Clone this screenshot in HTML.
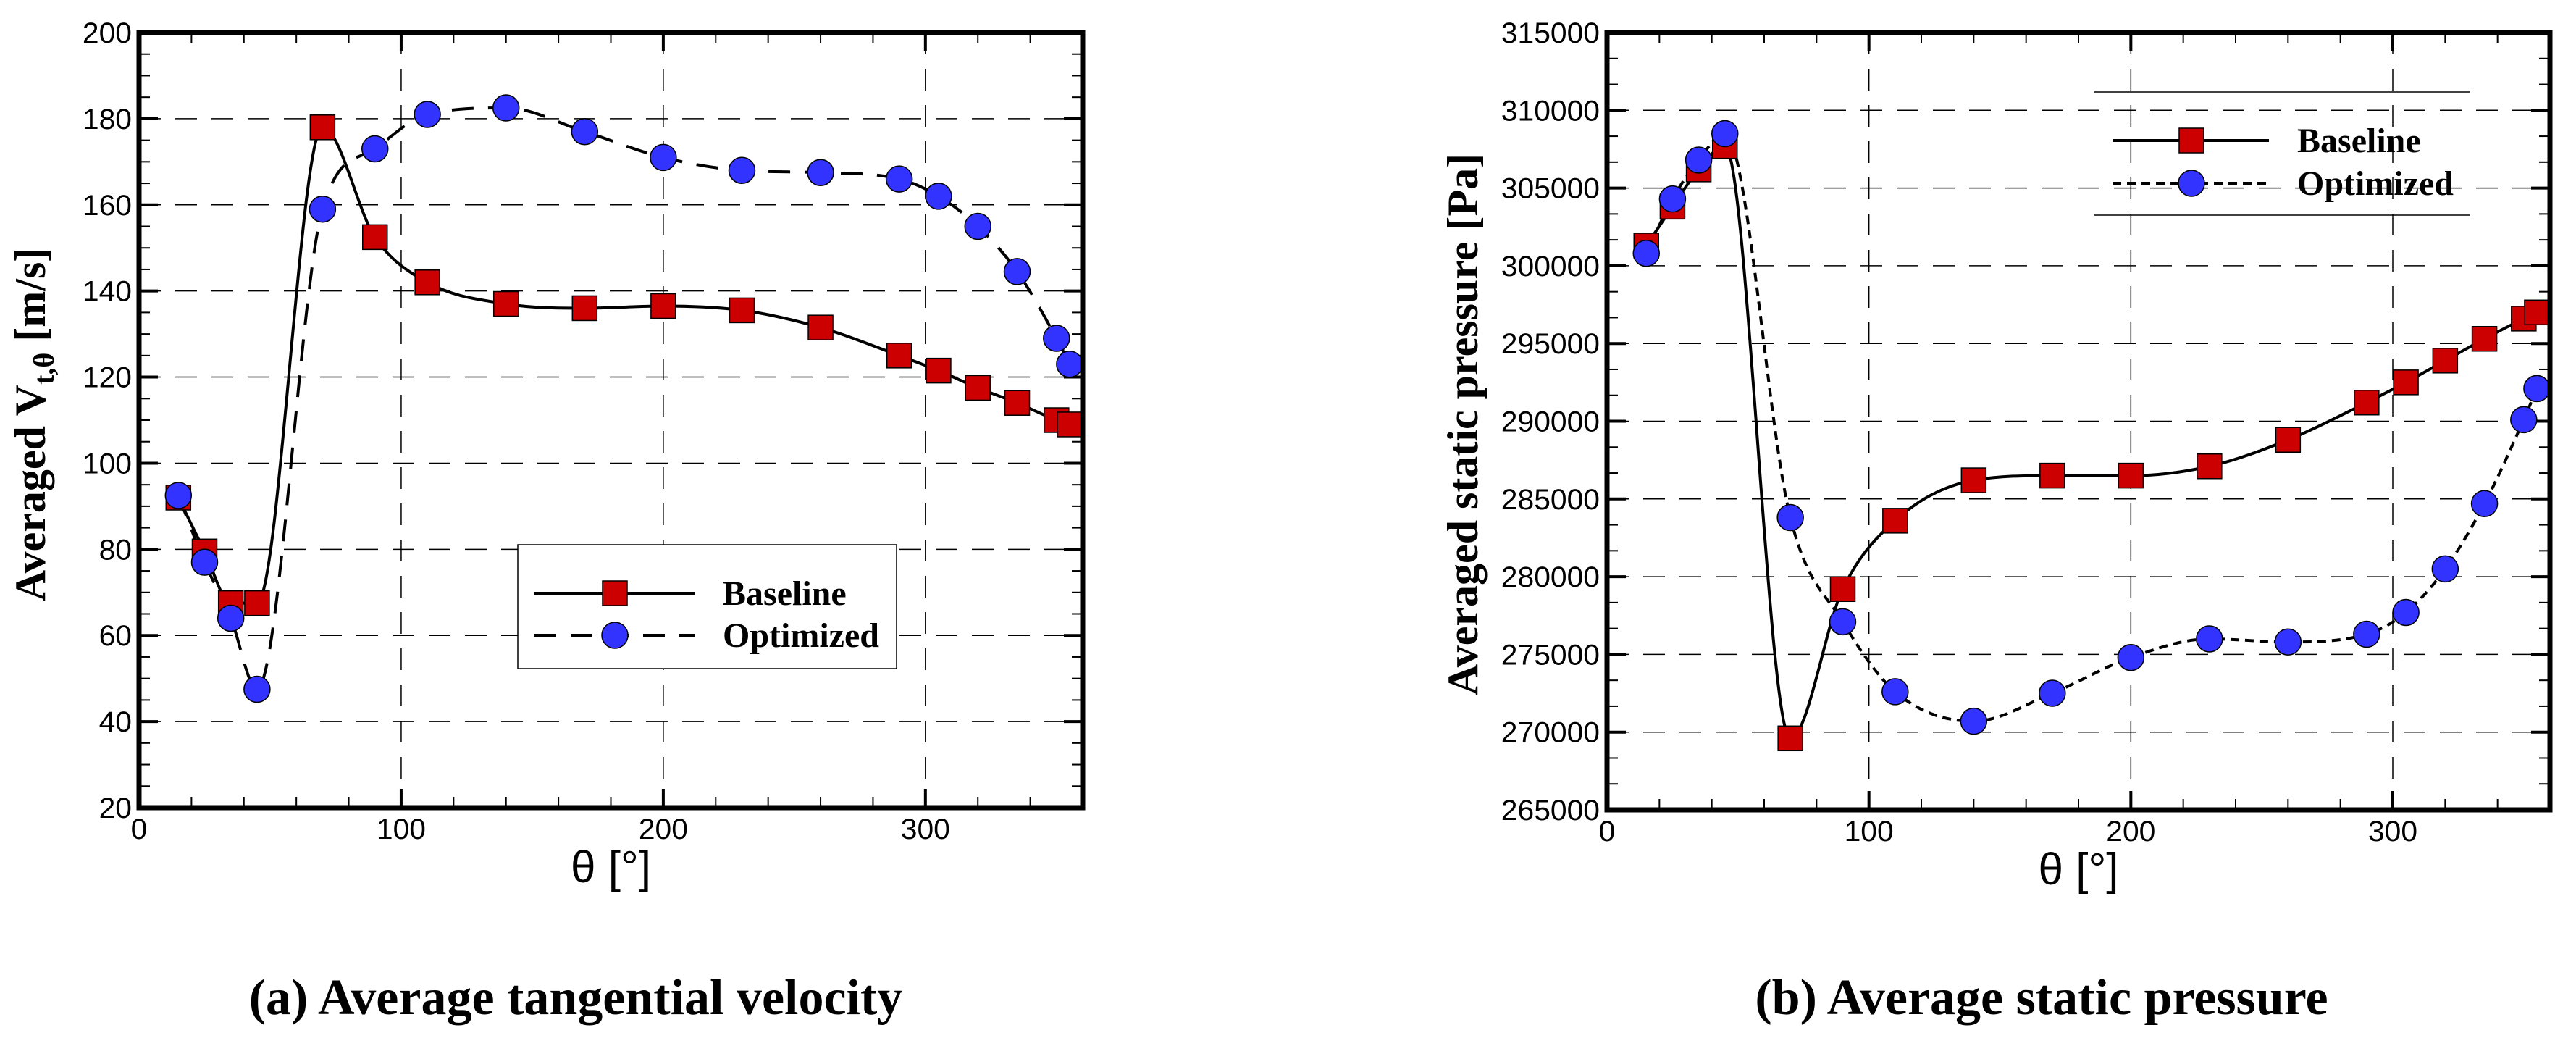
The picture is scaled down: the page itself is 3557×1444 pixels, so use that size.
<!DOCTYPE html>
<html><head><meta charset="utf-8"><style>
html,body{margin:0;padding:0;background:#fff}
svg{display:block}
.tick{font-family:"Liberation Sans Narrow","Liberation Sans",sans-serif;font-size:40px}
.serif{font-family:"Liberation Serif",serif;font-weight:bold}
</style></head><body>
<svg id="fig" width="3557" height="1444" viewBox="0 0 3557 1444" xmlns="http://www.w3.org/2000/svg">
<text class="serif" x="795" y="1400" font-size="70" text-anchor="middle">(a) Average tangential velocity</text>
<text class="serif" x="2819" y="1400" font-size="70" text-anchor="middle">(b) Average static pressure</text>
</svg>
<script>
const thetaA = [15,25,35,45,70,90,110,140,170,200,230,260,290,305,320,335,350,355];
const velBaseline = [92,79.5,67.5,67.5,178,152.5,142,137,136,136.5,135.5,131.5,125,121.5,117.5,114,110,109];
const velOptimized = [92.5,77,64,47.5,159,173,181,182.5,177,171,168,167.5,166,162,155,144.5,129,123];
const velTicks = [20,40,60,80,100,120,140,160,180,200];
const thetaTicks = [0,100,200,300];
const presBaseline = [301300,303800,306200,307700,269600,279200,283600,286200,286500,286500,287100,288800,291200,292500,293900,295300,296600,297000];
const presOptimized = [300800,304300,306800,308500,283800,277100,272600,270700,272500,274800,276000,275800,276300,277700,280500,284700,290100,292100];
const presTicks = [265000,270000,275000,280000,285000,290000,295000,300000,305000,310000,315000];

const NS="http://www.w3.org/2000/svg";
const svg=document.getElementById('fig');
function mk(tag,attrs,parent){const e=document.createElementNS(NS,tag);for(const k in attrs)e.setAttribute(k,attrs[k]);(parent||svg).appendChild(e);return e;}

function smooth(pts){
  const n=pts.length,dx=[],dy=[],m=[],s=[];
  for(let i=0;i<n-1;i++){dx[i]=pts[i+1][0]-pts[i][0];dy[i]=pts[i+1][1]-pts[i][1];s[i]=dy[i]/dx[i];}
  m[0]=s[0];m[n-1]=s[n-2];
  for(let i=1;i<n-1;i++){m[i]=(s[i-1]*s[i]<=0)?0:(s[i-1]+s[i])/2;}
  for(let i=0;i<n-1;i++){if(s[i]===0){m[i]=0;m[i+1]=0;continue;}
    const a=m[i]/s[i],b=m[i+1]/s[i],h=a*a+b*b;if(h>9){const t=3/Math.sqrt(h);m[i]=t*a*s[i];m[i+1]=t*b*s[i];}}
  let d="M"+pts[0][0]+","+pts[0][1];
  for(let i=0;i<n-1;i++){const h=dx[i]/3;
    d+=" C"+(pts[i][0]+h)+","+(pts[i][1]+m[i]*h)+" "+(pts[i+1][0]-h)+","+(pts[i+1][1]-m[i+1]*h)+" "+pts[i+1][0]+","+pts[i+1][1];}
  return d;
}

function plot(cfg){
  const g=mk('g',{});
  
  
  const L=cfg.L,R=cfg.R,T=cfg.T,B=cfg.B;
  const xs=v=>L+(v-0)/(360-0)*(R-L);
  const ys=v=>B-(v-cfg.ymin)/(cfg.ymax-cfg.ymin)*(B-T);
  thetaTicks.forEach(v=>{ if(v>0){const l=mk('line',{x1:xs(v),x2:xs(v),y1:T,y2:B,stroke:'#000','stroke-width':1.5,'stroke-dasharray':'30 20'},g);
    
    }});
  cfg.yticks.forEach(v=>{ if(v>cfg.ymin&&v<cfg.ymax){const l=mk('line',{x1:L,x2:R,y1:ys(v),y2:ys(v),stroke:'#000','stroke-width':1.5,'stroke-dasharray':'30 20'},g);
    
    }});
  for(let v=0;v<=360;v+=20){const maj=v%100===0;const len=maj?26:15;
    mk('line',{x1:xs(v),x2:xs(v),y1:B,y2:B-len,stroke:'#000','stroke-width':maj?4:2},g);
    mk('line',{x1:xs(v),x2:xs(v),y1:T,y2:T+len,stroke:'#000','stroke-width':maj?4:2},g);}
  const step=cfg.yticks[1]-cfg.yticks[0];const minor=step/cfg.nminor;
  for(let v=cfg.ymin;v<=cfg.ymax+1e-6;v+=minor){const maj=Math.abs(((v-cfg.ymin)/step)-Math.round((v-cfg.ymin)/step))<1e-6;const len=maj?26:15;
    mk('line',{x1:L,x2:L+len,y1:ys(v),y2:ys(v),stroke:'#000','stroke-width':maj?4:2},g);
    mk('line',{x1:R,x2:R-len,y1:ys(v),y2:ys(v),stroke:'#000','stroke-width':maj?4:2},g);}
  thetaTicks.forEach(v=>{const s=String(v);const t=mk('text',{x:xs(v),y:B+43,'text-anchor':'middle',class:'tick',textLength:s.length*22.7,lengthAdjust:'spacingAndGlyphs'},g);t.textContent=s;
    
    });
  cfg.yticks.forEach(v=>{const s=String(v);const t=mk('text',{x:L-10,y:ys(v)+14,'text-anchor':'end',class:'tick',textLength:s.length*22.7,lengthAdjust:'spacingAndGlyphs'},g);t.textContent=s;
    
    });
  const s1=cfg.s1.map((v,i)=>[xs(thetaA[i]),ys(v)]);
  const s2=cfg.s2.map((v,i)=>[xs(thetaA[i]),ys(v)]);
  const p1=mk('path',{d:smooth(s1),fill:'none',stroke:'#000','stroke-width':4},g);
  
  
  const p2=mk('path',{d:smooth(s2),fill:'none',stroke:'#000','stroke-width':4,'stroke-dasharray':cfg.dash},g);
  
  
  s1.forEach(p=>{const r=mk('rect',{x:p[0]-17,y:p[1]-17,width:34,height:34,fill:'#cc0000',stroke:'#000','stroke-width':1.5},g);
    
    });
  s2.forEach(p=>{const c=mk('circle',{cx:p[0],cy:p[1],r:18,fill:'#3333ff',stroke:'#000','stroke-width':1.5},g);
    
    });
  const f=mk('rect',{x:L,y:T,width:R-L,height:B-T,fill:'none',stroke:'#000','stroke-width':7},g);
  
  
  const xt=mk('text',{x:(L+R)/2,y:B+103,'text-anchor':'middle',class:'tick'},g);
  xt.setAttribute('style','font-size:62px');
  xt.textContent='θ [°]';
  
  
  const yt=mk('text',{x:cfg.ytx,y:586,'text-anchor':'middle',class:'serif','font-size':60,transform:'rotate(-90 '+cfg.ytx+' 586)'},g);
  
  
  if(cfg.vel){yt.innerHTML='Averaged V<tspan font-size="40" dy="12">t,θ</tspan><tspan dy="-12"> [m/s]</tspan>';}
  else yt.textContent='Averaged static pressure [Pa]';
  const lg=mk('g',{},g);
  
  
  const Lg=cfg.legend;
  if(Lg.box) mk('rect',{x:Lg.x0,y:Lg.y0,width:Lg.x1-Lg.x0,height:Lg.y1-Lg.y0,fill:'#fff',stroke:'#000','stroke-width':1.5},lg);
  else{mk('line',{x1:Lg.x0,x2:Lg.x1,y1:Lg.y0,y2:Lg.y0,stroke:'#000','stroke-width':1.5},lg);mk('line',{x1:Lg.x0,x2:Lg.x1,y1:Lg.y1,y2:Lg.y1,stroke:'#000','stroke-width':1.5},lg);}
  mk('line',{x1:Lg.lx0,x2:Lg.lx1,y1:Lg.r1,y2:Lg.r1,stroke:'#000','stroke-width':4},lg);
  mk('rect',{x:Lg.mx-17,y:Lg.r1-17,width:34,height:34,fill:'#cc0000',stroke:'#000','stroke-width':1.5},lg);
  mk('line',{x1:Lg.lx0,x2:Lg.lx1,y1:Lg.r2,y2:Lg.r2,stroke:'#000','stroke-width':4,'stroke-dasharray':cfg.dash},lg);
  mk('circle',{cx:Lg.mx,cy:Lg.r2,r:18,fill:'#3333ff',stroke:'#000','stroke-width':1.5},lg);
  const t1=mk('text',{x:Lg.tx,y:Lg.r1+16,class:'serif','font-size':48},lg);t1.textContent='Baseline';
  
  
  const t2=mk('text',{x:Lg.tx,y:Lg.r2+16,class:'serif','font-size':48},lg);t2.textContent='Optimized';
  
  
}

plot({name:'velocity-chart',vel:true,L:192,R:1495,T:45,B:1115,ymin:20,ymax:200,yticks:velTicks,nminor:4,s1:velBaseline,s2:velOptimized,dash:'30 20',ytx:62,
  legend:{box:true,x0:715,x1:1238,y0:752,y1:923,lx0:738,lx1:960,mx:849,r1:819,r2:877,tx:998}});
plot({name:'pressure-chart',vel:false,L:2219,R:3521,T:45,B:1118,ymin:265000,ymax:315000,yticks:presTicks,nminor:3,s1:presBaseline,s2:presOptimized,dash:'12 8',ytx:2040,
  legend:{box:false,x0:2892,x1:3411,y0:127,y1:297,lx0:2917,lx1:3133,mx:3026,r1:194,r2:253,tx:3172}});
</script>
</body></html>
